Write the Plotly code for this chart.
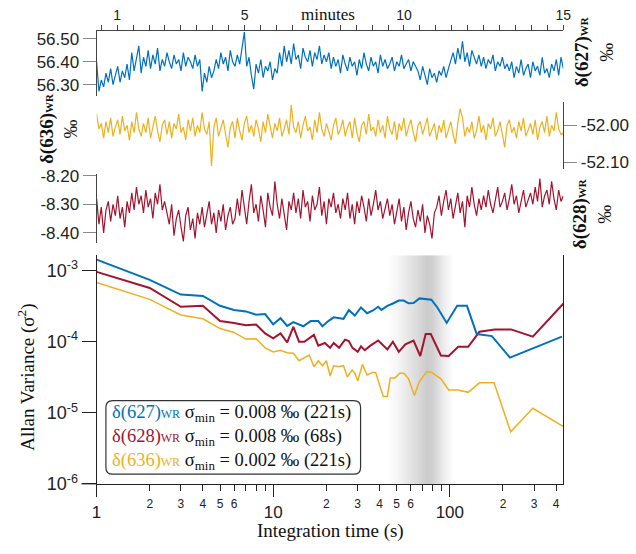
import numpy as np
import plotly.graph_objects as go

W, H = 636, 554
def px(x): return x / W
def py(y): return 1 - y / H

BLUE, RED, YELLOW = "#0072BD", "#A2142F", "#EDB120"
SERIF = "Liberation Serif, Times New Roman, serif"
SANS = "Liberation Sans, Arial, sans-serif"

# ---------------- time series (minutes) ----------------
T_START, T_END = 0.354, 15.0
d627 = [56.40, 56.27, 56.32, 56.29, 56.35, 56.31, 56.37, 56.30, 56.34, 56.38, 56.31, 56.36, 56.33, 56.39, 56.32,
        56.44, 56.36, 56.41, 56.47, 56.35, 56.42, 56.38, 56.45, 56.37, 56.43, 56.39, 56.46, 56.36, 56.41, 56.38, 56.44, 56.40,
        56.37, 56.43, 56.39, 56.41, 56.36, 56.44, 56.38, 56.42, 56.40, 56.37, 56.43, 56.38, 56.41,
        56.27, 56.35, 56.31, 56.38, 56.33, 56.36,
        56.41, 56.37, 56.44, 56.39, 56.42, 56.36, 56.45, 56.40, 56.38, 56.43, 56.39, 56.46, 56.53,
        56.38, 56.42, 56.34, 56.28, 56.39, 56.35, 56.41, 56.33, 56.38, 56.36, 56.40, 56.32, 56.37, 56.35,
        56.44, 56.38, 56.47, 56.40, 56.45, 56.39, 56.48, 56.41, 56.43, 56.37, 56.46, 56.42, 56.40, 56.45, 56.38, 56.44,
        56.41, 56.47, 56.39, 56.43, 56.40, 56.44,
        56.37, 56.42, 56.38, 56.41, 56.35, 56.43, 56.39, 56.36, 56.42, 56.38, 56.40, 56.34, 56.41, 56.37, 56.44, 56.39,
        56.36, 56.42, 56.38, 56.40, 56.35, 56.43, 56.38, 56.41, 56.37, 56.39, 56.42, 56.36, 56.40, 56.38, 56.43, 56.37,
        56.39, 56.41, 56.36, 56.40, 56.38,
        56.36, 56.32, 56.38, 56.34, 56.30, 56.37, 56.33, 56.35, 56.31, 56.36, 56.34, 56.38, 56.33, 56.37,
        56.40, 56.44, 56.39, 56.46, 56.41, 56.49, 56.40, 56.44, 56.38, 56.45, 56.42, 56.39, 56.43,
        56.38, 56.42, 56.37, 56.41, 56.39, 56.43, 56.36, 56.40, 56.38, 56.42, 56.37, 56.39,
        56.36, 56.40, 56.33, 56.38, 56.35, 56.41, 56.34, 56.37, 56.39, 56.33, 56.40, 56.36, 56.38, 56.34, 56.42, 56.35,
        56.37, 56.33, 56.39, 56.36, 56.41, 56.34, 56.42, 56.37]

d636 = [-51.970, -52.010, -51.995, -52.035, -51.990, -52.020, -51.980, -52.030, -52.005, -51.985,
        -52.025, -51.975, -52.015, -52.000, -52.040, -51.990, -52.020, -51.965, -52.010, -52.030,
        -51.995, -52.020, -51.980, -52.035, -52.005, -51.975, -52.015, -52.045, -52.000, -51.985,
        -52.025, -51.990, -52.035, -51.995, -52.010, -51.970, -52.020, -52.005, -52.040, -51.985,
        -52.015, -51.980, -52.030, -52.000, -52.020, -51.965, -52.010, -52.025, -51.990, -52.110,
        -52.005, -51.980, -52.030, -52.010, -51.985, -52.025, -52.060, -52.005, -51.990, -52.035,
        -51.980, -52.015, -52.040, -51.995, -51.975, -52.020, -52.000, -52.030, -51.985, -52.010,
        -52.045, -51.990, -52.020, -51.970, -52.005, -52.035, -51.995, -52.015, -51.980, -52.030,
        -52.010, -51.985, -52.025, -51.945, -52.005, -52.020, -51.990, -52.035, -52.000, -51.975,
        -52.015, -52.005, -52.040, -51.985, -52.020, -51.965, -52.010, -52.030, -51.995, -52.015,
        -52.040, -52.000, -51.980, -52.025, -52.010, -51.985, -52.030, -52.005, -51.990, -52.035,
        -51.980, -52.020, -52.045, -52.000, -51.990, -52.025, -51.970, -52.015, -52.005, -52.030,
        -51.985, -52.020, -52.000, -52.035, -51.975, -52.010, -52.025, -51.990, -52.040, -51.995,
        -52.015, -51.980, -52.030, -52.005, -51.985, -52.020, -52.045, -52.000, -51.990, -52.025,
        -52.005, -51.980, -52.030, -52.015, -51.995, -52.040, -52.000, -52.020, -51.985, -52.035,
        -52.010, -51.990, -52.025, -52.050, -51.995, -51.955, -51.980, -52.030, -52.005, -52.020,
        -51.990, -52.035, -52.015, -51.975, -52.020, -52.000, -52.040, -51.995, -52.010, -51.980,
        -52.030, -52.015, -51.990, -52.025, -52.060, -52.000, -51.985, -52.020, -52.005, -52.035,
        -51.990, -52.015, -51.980, -52.030, -52.010, -51.995, -52.025, -51.985, -52.040, -52.005,
        -51.990, -52.020, -51.975, -52.030, -52.000, -52.015, -51.965, -52.010, -52.025, -52.020]

d628 = [-8.28, -8.37, -8.31, -8.40, -8.32, -8.29, -8.36, -8.30, -8.34, -8.27, -8.35, -8.31, -8.38, -8.29, -8.33,
        -8.26, -8.32, -8.24, -8.30, -8.27, -8.33, -8.25, -8.31, -8.28, -8.35, -8.26, -8.30, -8.23, -8.32, -8.29,
        -8.33, -8.37, -8.30, -8.41, -8.35, -8.32, -8.38, -8.43, -8.34, -8.31, -8.39, -8.35, -8.42, -8.33, -8.37,
        -8.31, -8.38, -8.34, -8.29, -8.37, -8.33, -8.40, -8.32, -8.36, -8.30, -8.39, -8.34, -8.31, -8.37, -8.35,
        -8.28, -8.34, -8.25, -8.31, -8.37, -8.29, -8.23, -8.33, -8.30, -8.36, -8.27, -8.32, -8.38, -8.26, -8.31,
        -8.34, -8.22, -8.30, -8.35, -8.28, -8.33, -8.39, -8.29, -8.32, -8.26,
        -8.33, -8.28, -8.35, -8.25, -8.31, -8.29, -8.36, -8.27, -8.32, -8.30, -8.24, -8.34, -8.29, -8.37, -8.28,
        -8.31, -8.26, -8.33, -8.30, -8.35,
        -8.28, -8.32, -8.26, -8.35, -8.30, -8.37, -8.29, -8.33, -8.27, -8.31, -8.36, -8.28, -8.34, -8.30, -8.25,
        -8.32, -8.29, -8.35, -8.31, -8.28,
        -8.34, -8.30, -8.37, -8.32, -8.28, -8.36, -8.31, -8.39, -8.33, -8.29, -8.35, -8.38, -8.32, -8.36, -8.30,
        -8.40, -8.34, -8.37, -8.42, -8.33,
        -8.31, -8.27, -8.34, -8.29, -8.25, -8.32, -8.28, -8.35, -8.30, -8.26, -8.33, -8.29, -8.38, -8.27, -8.31,
        -8.24, -8.30, -8.34, -8.28, -8.32,
        -8.27, -8.31, -8.25, -8.30, -8.33, -8.28, -8.24, -8.31, -8.29, -8.26, -8.32, -8.28, -8.23, -8.30, -8.27,
        -8.33, -8.29, -8.25, -8.31, -8.28,
        -8.26, -8.30, -8.24, -8.29, -8.21, -8.31, -8.27, -8.25, -8.30, -8.22, -8.28, -8.32, -8.25, -8.29, -8.27]

# ---------------- Allan variance ----------------
tau_627 = [1, 2, 3, 4, 5, 6, 7, 8, 9, 10, 11, 12, 13, 14.8, 16.3, 18, 19, 20.5, 22, 23.5, 25, 26.8, 29, 31.4,
           34, 36.5, 39.3, 41, 44.3, 47.6, 51.4, 54.8, 58.4, 62.3, 67.3, 78.6, 85, 96, 110, 125, 142, 173, 219, 431]
av_627 = [1.43e-3, 7.4e-4, 4.6e-4, 4.4e-4, 3.2e-4, 2.8e-4, 2.67e-4, 2.4e-4, 2.45e-4, 1.76e-4, 2.14e-4, 1.67e-4,
          1.89e-4, 1.65e-4, 1.95e-4, 1.95e-4, 1.65e-4, 1.95e-4, 2.2e-4, 2.15e-4, 2.1e-4, 2.78e-4, 2.33e-4, 3.03e-4,
          2.52e-4, 2.73e-4, 3.1e-4, 2.8e-4, 3.2e-4, 3.45e-4, 3.8e-4, 3.8e-4, 3.47e-4, 3.5e-4, 4.07e-4, 3.9e-4,
          3.03e-4, 1.84e-4, 3.2e-4, 3.2e-4, 1.28e-4, 1.2e-4, 5.97e-5, 1.18e-4]

tau_628 = [1, 2, 3, 4, 5, 6, 7, 8, 9, 10, 11, 12, 13, 14, 15, 17, 18, 19.6, 21, 22, 23.6, 25.5, 26.8, 28.1, 30.1,
           31.4, 33, 35.5, 39.3, 44.3, 47.6, 51.4, 56, 62.3, 68, 73, 78, 89, 98.5, 111.5, 127, 147, 180, 222, 295, 440]
av_628 = [9.6e-4, 5.7e-4, 3.1e-4, 3.2e-4, 1.95e-4, 1.84e-4, 1.7e-4, 1.75e-4, 1.31e-4, 1.12e-4, 1.31e-4, 9.8e-5,
          1.62e-4, 1.0e-4, 1.0e-4, 1.25e-4, 8.8e-5, 9.6e-5, 8.2e-5, 9.6e-5, 8.2e-5, 1.07e-4, 1.02e-4, 8.2e-5, 7.2e-5,
          8.6e-5, 7.6e-5, 8.8e-5, 1.04e-4, 7.8e-5, 1.0e-4, 7.2e-5, 9.2e-5, 1.04e-4, 6.3e-5, 1.28e-4, 1.28e-4, 6.4e-5,
          6.3e-5, 8.5e-5, 8.5e-5, 1.38e-4, 1.49e-4, 1.49e-4, 1.18e-4, 3.45e-4]

tau_636 = [1, 2, 3, 4, 5, 6, 7, 8, 9, 10, 11, 12, 13, 14, 16, 17, 18, 19, 20, 21, 22, 23.6, 25, 26.3, 28, 29, 30.1,
           32, 34, 36.5, 38, 42, 44.3, 46, 49, 52, 55, 58.4, 63, 67, 74, 79, 89, 98.5, 111, 127, 147, 178, 221, 295, 440]
av_636 = [6.8e-4, 3.94e-4, 2.38e-4, 2.1e-4, 1.53e-4, 1.35e-4, 1.09e-4, 1.1e-4, 8.2e-5, 7.2e-5, 7.6e-5, 7.0e-5,
          6.9e-5, 5.4e-5, 6.5e-5, 4.45e-5, 5.4e-5, 4.6e-5, 5.4e-5, 3.3e-5, 4.6e-5, 4.5e-5, 4.6e-5, 3.2e-5, 4.0e-5,
          3.6e-5, 2.8e-5, 4.8e-5, 3.4e-5, 3.7e-5, 3.7e-5, 1.7e-5, 1.7e-5, 3.1e-5, 3.1e-5, 3.6e-5, 3.6e-5, 3.0e-5,
          1.75e-5, 2.7e-5, 3.8e-5, 3.7e-5, 3.0e-5, 2.1e-5, 2.1e-5, 1.94e-5, 2.64e-5, 2.64e-5, 5.4e-6, 1.16e-5, 6.4e-6]

minute_ticks = [0.5 * k for k in range(1, 31)]
minute_labels = ["1", "5", "10", "15"]

legend_rows = [
    ("δ(627)", BLUE, "0.008", "221s"),
    ("δ(628)", RED, "0.008", "68s"),
    ("δ(636)", YELLOW, "0.002", "221s"),
]

AV_YMIN, AV_YMAX = -6.0, -2.782
AV_XMAX = 2.6427
BAND = [44.2, 105.2]   # shaded optimum-integration region (s)

fig = go.Figure()

# ---- gradient band ----
fig.add_trace(go.Scatter(
    x=[BAND[0], BAND[1], BAND[1], BAND[0], BAND[0]],
    y=[10 ** AV_YMIN, 10 ** AV_YMIN, 10 ** AV_YMAX, 10 ** AV_YMAX, 10 ** AV_YMIN],
    xaxis="x4", yaxis="y4", mode="lines", line=dict(width=0), fill="toself",
    fillgradient=dict(type="horizontal", colorscale=[
        [0.0, "rgb(255,255,255)"], [0.15, "rgb(246,246,246)"], [0.35, "rgb(228,228,228)"],
        [0.52, "rgb(212,212,212)"], [0.6, "rgb(203,203,203)"], [0.68, "rgb(208,208,208)"],
        [0.85, "rgb(236,236,236)"], [1.0, "rgb(255,255,255)"]]),
    hoverinfo="skip", showlegend=False))

# ---- time series ----
def tgrid(vals):
    return np.linspace(T_START, T_END, len(vals))

fig.add_trace(go.Scatter(x=tgrid(d627), y=d627, xaxis="x", yaxis="y", mode="lines",
                         line=dict(color=BLUE, width=1.2), showlegend=False))
fig.add_trace(go.Scatter(x=tgrid(d636), y=d636, xaxis="x2", yaxis="y2", mode="lines",
                         line=dict(color=YELLOW, width=1.2), showlegend=False))
fig.add_trace(go.Scatter(x=tgrid(d628), y=d628, xaxis="x3", yaxis="y3", mode="lines",
                         line=dict(color=RED, width=1.2), showlegend=False))

# ---- Allan variance ----
fig.add_trace(go.Scatter(x=tau_636, y=av_636, xaxis="x4", yaxis="y4", mode="lines",
                         line=dict(color=YELLOW, width=1.5), showlegend=False))
fig.add_trace(go.Scatter(x=tau_628, y=av_628, xaxis="x4", yaxis="y4", mode="lines",
                         line=dict(color=RED, width=2), showlegend=False))
fig.add_trace(go.Scatter(x=tau_627, y=av_627, xaxis="x4", yaxis="y4", mode="lines",
                         line=dict(color=BLUE, width=2), showlegend=False))
# dummy trace carrying the major-tick overlay axis
fig.add_trace(go.Scatter(x=[1], y=[1e-6], xaxis="x5", yaxis="y4", mode="markers",
                         marker=dict(opacity=0), hoverinfo="skip", showlegend=False))

XDOM = [px(93.5), px(570)]

minor_vals, minor_text = [], []
for dec in [1, 10, 100]:
    for m in range(2, 10):
        v = m * dec
        if v > 10 ** AV_XMAX:
            continue
        minor_vals.append(v)
        show = (m <= 6) if dec < 100 else (m <= 4)
        minor_text.append(str(m) if show else "")

ts_y_common = dict(showline=True, linecolor="#444", linewidth=1, ticks="outside", ticklen=13,
                   tickcolor="#888", tickwidth=1, showgrid=False, zeroline=False,
                   tickfont=dict(family=SANS, size=17, color="#222"))

fig.update_layout(
    width=W, height=H, autosize=False,
    margin=dict(l=0, r=0, t=0, b=0),
    paper_bgcolor="white", plot_bgcolor="rgba(0,0,0,0)",
    showlegend=False,
    xaxis=dict(domain=XDOM, range=[T_START, T_END], anchor="y", side="top",
               showline=True, linecolor="#444", ticks="outside", ticklen=5, tickcolor="#444",
               tickvals=minute_ticks,
               ticktext=[(str(int(v)) if (v == int(v) and str(int(v)) in minute_labels) else "") for v in minute_ticks],
               tickfont=dict(family=SANS, size=14, color="#222"), showgrid=False, zeroline=False),
    yaxis=dict(domain=[py(92), py(25)], range=[56.249, 56.534], anchor="x", side="left",
               tickvals=[56.30, 56.40, 56.50], ticktext=["56.30", "56.40", "56.50"], **ts_y_common),
    xaxis2=dict(domain=XDOM, range=[T_START, T_END], anchor="y2", visible=False),
    yaxis2=dict(domain=[py(167), py(98)], range=[-52.118, -51.937], anchor="x2", side="right",
                tickvals=[-52.00, -52.10], ticktext=["-52.00", "-52.10"], **ts_y_common),
    xaxis3=dict(domain=XDOM, range=[T_START, T_END], anchor="y3", visible=False),
    yaxis3=dict(domain=[py(243), py(172)], range=[-8.434, -8.193], anchor="x3", side="left",
                tickvals=[-8.20, -8.30, -8.40], ticktext=["-8.20", "-8.30", "-8.40"], **ts_y_common),
    xaxis4=dict(domain=XDOM, type="log", range=[0, AV_XMAX], anchor="y4",
                showline=True, linecolor="#222", linewidth=1, ticks="outside", ticklen=6,
                tickcolor="#222", tickvals=minor_vals, ticktext=minor_text, ticklabelstandoff=3,
                tickfont=dict(family=SANS, size=12, color="#222"), showgrid=False, zeroline=False),
    xaxis5=dict(domain=XDOM, type="log", range=[0, AV_XMAX], anchor="y4", overlaying="x4", side="bottom",
                showline=False, ticks="outside", ticklen=12, tickcolor="#222",
                tickvals=[1, 10, 100], ticktext=["1", "10", "100"], ticklabelstandoff=1,
                tickfont=dict(family=SANS, size=17, color="#222"), showgrid=False, zeroline=False),
    yaxis4=dict(domain=[py(492), py(256)], type="log", range=[AV_YMIN, AV_YMAX], anchor="x4",
                showline=True, mirror=True, linecolor="#222", linewidth=1, ticks="outside", ticklen=14,
                tickcolor="#222", tickvals=[1e-6, 1e-5, 1e-4, 1e-3],
                ticktext=["10<sup>-6</sup>", "10<sup>-5</sup>", "10<sup>-4</sup>", "10<sup>-3</sup>"],
                tickfont=dict(family=SANS, size=18, color="#222"), showgrid=False, zeroline=False),
)

# x-axis line extension to the left of the y axis
fig.add_shape(type="line", xref="paper", yref="paper", x0=px(78), x1=px(93.5), y0=py(492), y1=py(492),
              line=dict(color="#222", width=1))

# rounded legend box
x0, x1, y0, y1, r = 103, 363, 406, 482, 7
path = (f"M {px(x0 + r)},{py(y0)} L {px(x1 - r)},{py(y0)} Q {px(x1)},{py(y0)} {px(x1)},{py(y0 + r)} "
        f"L {px(x1)},{py(y1 - r)} Q {px(x1)},{py(y1)} {px(x1 - r)},{py(y1)} "
        f"L {px(x0 + r)},{py(y1)} Q {px(x0)},{py(y1)} {px(x0)},{py(y1 - r)} "
        f"L {px(x0)},{py(y0 + r)} Q {px(x0)},{py(y0)} {px(x0 + r)},{py(y0)} Z")
fig.add_shape(type="path", path=path, xref="paper", yref="paper",
              line=dict(color="#333", width=1.2), fillcolor="rgba(255,255,255,0)")

lines = []
for name, col, val, t in legend_rows:
    lines.append(f'<span style="color:{col}">{name}</span><span style="color:{col};font-size:12px">WR</span>'
                 f' σ<sub>min</sub> = {val} ‰ ({t})')
fig.add_annotation(x=px(107), y=py(444), xref="paper", yref="paper", xanchor="left", yanchor="middle",
                   align="left", showarrow=False, text="<br>".join(lines),
                   font=dict(family=SERIF, size=18.5, color="#111"))

def ann(x, y, text, size, angle=0, yanchor="middle"):
    fig.add_annotation(x=px(x), y=py(y), xref="paper", yref="paper", xanchor="center", yanchor=yanchor,
                       showarrow=False, text=text, textangle=angle,
                       font=dict(family=SERIF, size=size, color="#111"))

ann(22, 382, "Allan Variance (σ<sup>2</sup>)", 19, -90)
ann(332, 554, "Integration time (s)", 19, yanchor="bottom")
ann(330, 8, "minutes", 17)

def side_title(x, y, name):
    fig.add_annotation(x=px(x), y=py(y), xref="paper", yref="paper", xanchor="center", yanchor="middle",
                       showarrow=False, textangle=-90, align="center",
                       text=f'<b>{name}</b><span style="font-size:11px"><b>WR</b></span><br>‰',
                       font=dict(family=SERIF, size=19, color="#111"))

side_title(601, 46, "δ(627)")
side_title(55, 125, "δ(636)")
side_title(600, 213, "δ(628)")

fig.write_html("out.html")
